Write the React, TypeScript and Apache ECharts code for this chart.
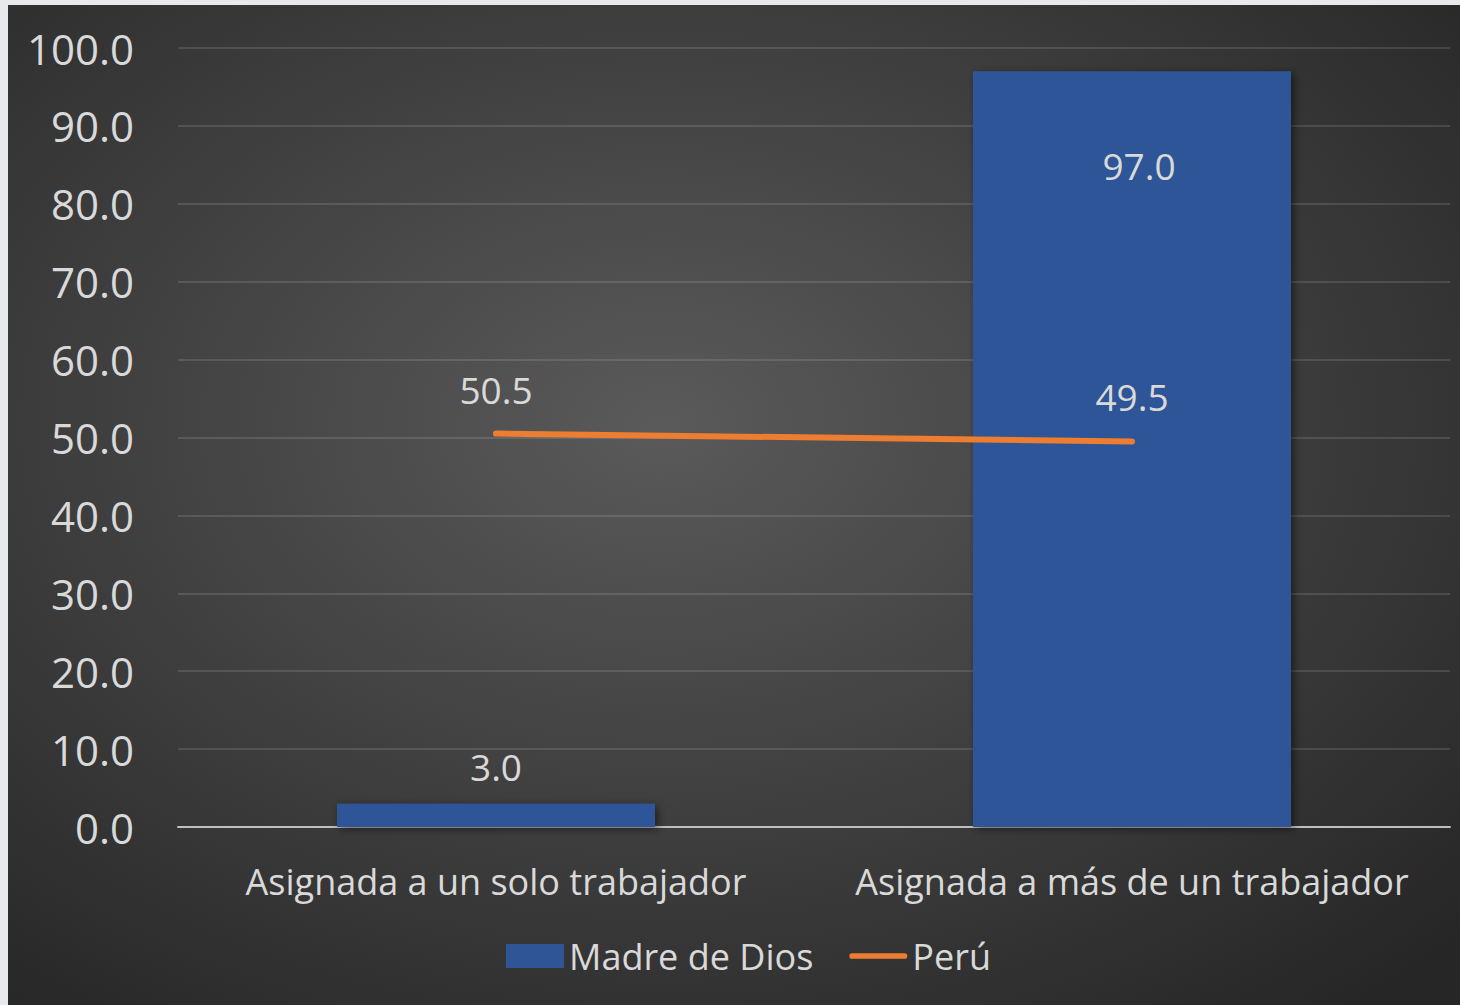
import React, { useEffect, useRef } from "react";
import * as echarts from "echarts";

const categories = ["Asignada a un solo trabajador", "Asignada a más de un trabajador"];
const madreDeDios = [3.0, 97.0];
const peru = [50.5, 49.5];
const seriesNames = ["Madre de Dios", "Perú"];

const FONT = "'Open Sans', 'Noto Sans', sans-serif";
const TXT = "#d9d9d9";

export default function App() {
  const ref = useRef<HTMLDivElement>(null);
  useEffect(() => {
    document.body.style.margin = "0";
    const chart = echarts.init(ref.current!, null, { renderer: "svg" });
    chart.setOption({
      animation: false,
      backgroundColor: {
        type: "radial",
        x: 0.45,
        y: 0.42,
        r: 0.75,
        colorStops: [
          { offset: 0, color: "#5a5a5a" },
          { offset: 1, color: "#262626" },
        ],
      },
      textStyle: { fontFamily: FONT },
      grid: { left: 170, right: 10, top: 43, bottom: 178, containLabel: false },
      legend: {
        bottom: 26,
        left: 493,
        itemGap: 36,
        itemWidth: 58,
        itemHeight: 24,
        symbolKeepAspect: true,
        textStyle: { color: TXT, fontSize: 36, fontFamily: FONT },
        data: [
          { name: seriesNames[0], icon: "path://M0,0H58V24H0Z" },
          { name: seriesNames[1], icon: "path://M3,0H58A3,3 0 0 1 58,6H3A3,3 0 0 1 3,0Z" },
        ],
      },
      xAxis: {
        type: "category",
        data: categories,
        axisLine: { lineStyle: { color: "#bfbfbf", width: 2 } },
        axisTick: { show: false },
        axisLabel: { color: TXT, fontSize: 36, margin: 36, interval: 0, fontFamily: FONT },
      },
      yAxis: {
        type: "value",
        min: 0,
        max: 100,
        interval: 10,
        axisLine: { show: false },
        axisTick: { show: false },
        splitLine: { lineStyle: { color: "rgba(255,255,255,0.12)", width: 2 } },
        axisLabel: {
          color: TXT,
          fontSize: 42,
          margin: 44,
          fontFamily: FONT,
          formatter: (v: number) => v.toFixed(1),
        },
      },
      series: [
        {
          name: seriesNames[0],
          type: "bar",
          barWidth: "50%",
          itemStyle: {
            color: "#2f5597",
            shadowColor: "rgba(0,0,0,0.5)",
            shadowBlur: 8,
            shadowOffsetX: 3,
            shadowOffsetY: 2,
          },
          label: {
            show: true,
            color: TXT,
            fontSize: 37,
            fontFamily: FONT,
            formatter: (p: any) => p.value.toFixed(1),
            position: "top",
            distance: 19,
          },
          data: madreDeDios.map((v, i) =>
            i === 1
              ? { value: v, label: { position: "insideTop", distance: 76, offset: [7, 0] } }
              : { value: v }
          ),
        },
        {
          name: seriesNames[1],
          type: "line",
          data: peru,
          symbol: "circle",
          symbolSize: 0,
          showSymbol: true,
          lineStyle: { color: "#ed7d31", width: 6, cap: "round" },
          itemStyle: { color: "#ed7d31" },
          label: {
            show: true,
            position: "top",
            distance: 26,
            color: TXT,
            fontSize: 37,
            fontFamily: FONT,
            formatter: (p: any) => p.value.toFixed(1),
          },
        },
      ],
    });
    return () => chart.dispose();
  }, []);
  return (
    <div style={{ position: "relative", width: 1460, height: 1005, background: "#e8e9ec" }}>
      <div
        ref={ref}
        style={{ position: "absolute", left: 8, top: 5, width: 1452, height: 1000 }}
      />
    </div>
  );
}
